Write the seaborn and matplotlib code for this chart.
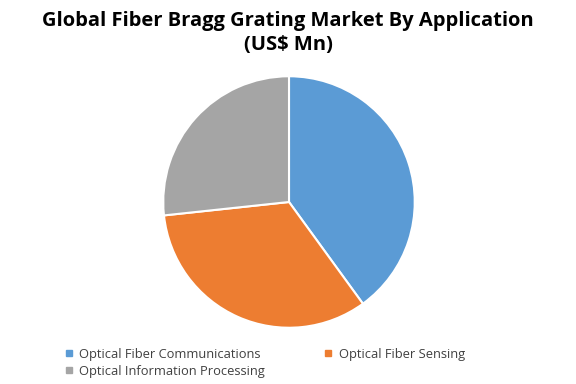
import matplotlib
matplotlib.use("Agg")
import matplotlib.pyplot as plt
from matplotlib.lines import Line2D
import seaborn as sns

categories = ["Optical Fiber Communications", "Optical Fiber Sensing", "Optical Information Processing"]
values = [40.0, 33.3, 26.7]
colors = ["#5B9BD5", "#ED7D31", "#A5A5A5"]
title = "Global Fiber Bragg Grating Market By Application\n(US$ Mn)"

sns.set_theme(style="white")
plt.rcParams['font.family'] = ['Open Sans', 'DejaVu Sans']

fig = plt.figure(figsize=(5.76, 3.84), dpi=100)
fig.patch.set_facecolor("white")
ax = fig.add_axes([162/576, 55/384, 254/576, 254/384])
ax.pie(values, colors=colors, startangle=90, counterclock=False,
       wedgeprops=dict(edgecolor="white", linewidth=1.5))
ax.set_xlim(-1.01, 1.01)
ax.set_ylim(-1.01, 1.01)
ax.set_aspect("equal")
ax.axis("off")

fig.text(0.5, 1 - 33/384, title, ha="center", va="center", fontsize=14.5,
         fontweight="bold", color="black", linespacing=1.25)

order = [0, 2, 1]
handles = [Line2D([0], [0], marker="s", linestyle="none", markersize=5,
                  markerfacecolor=colors[i], markeredgecolor=colors[i]) for i in order]
labels = [categories[i] for i in order]
fig.legend(handles, labels, ncol=2, loc="upper left", bbox_to_anchor=(65/576, 1 - 348/384),
           frameon=False, fontsize=9.3, handlelength=0.6, handletextpad=0.5,
           columnspacing=4.6, labelspacing=0.3, borderaxespad=0, borderpad=0,
           labelcolor="#404040")

fig.savefig("out.png", dpi=100, facecolor="white")
